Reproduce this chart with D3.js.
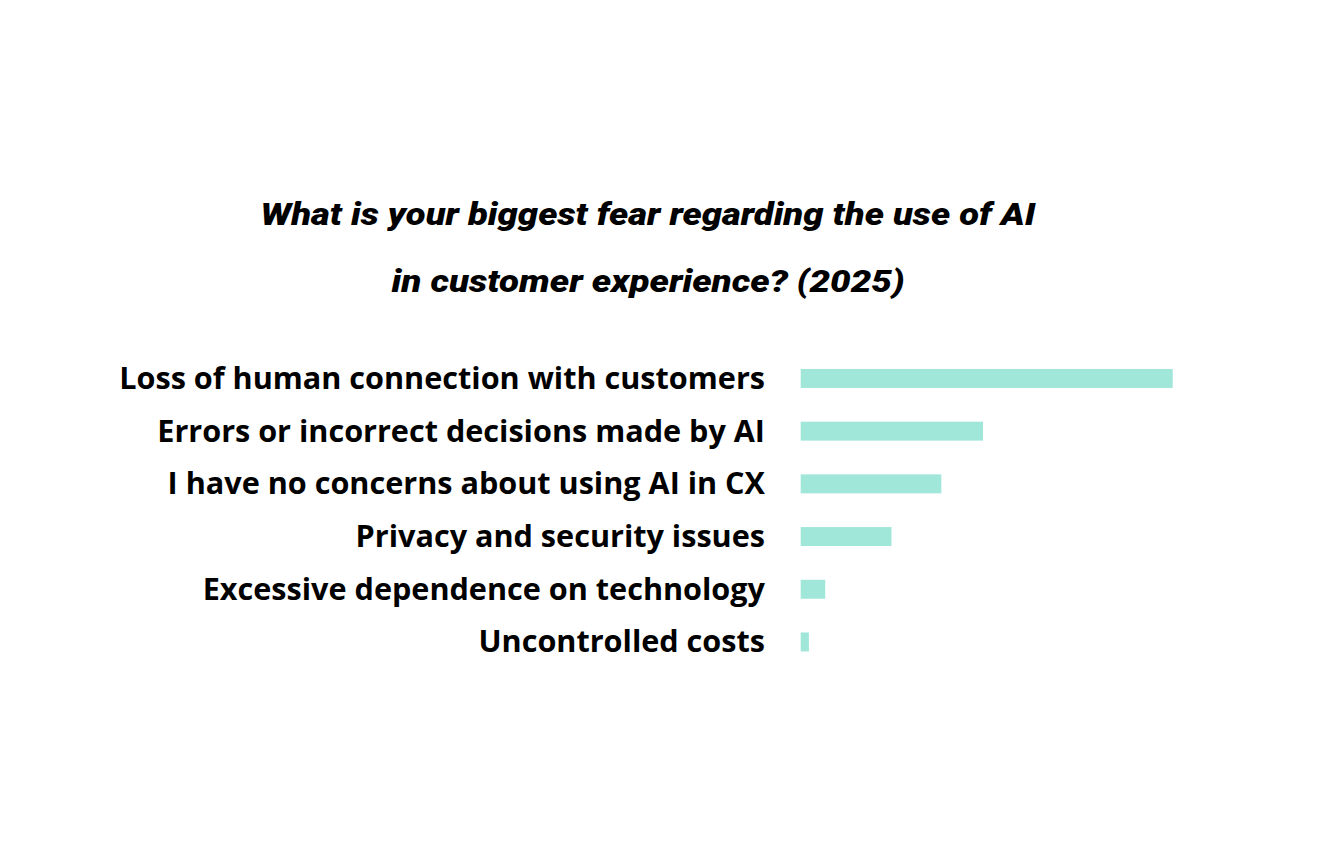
<!DOCTYPE html>
<html>
<head>
<meta charset="utf-8">
<script src="https://cdn.jsdelivr.net/npm/d3@7"></script>
<style>
  body { margin: 0; background: #ffffff; }
  svg { display: block; }
</style>
</head>
<body>
<div id="chart"></div>
<script>
const titleLines = ['What is your biggest fear regarding the use of AI', 'in customer experience? (2025)'];
const categories = [
    'Loss of human connection with customers',
    'Errors or incorrect decisions made by AI',
    'I have no concerns about using AI in CX',
    'Privacy and security issues',
    'Excessive dependence on technology',
    'Uncontrolled costs'
];
const values = [45.5, 22.3, 17.2, 11.1, 3.0, 1.0];

const width = 1335;
const height = 862;

const svg = d3.select('#chart')
    .append('svg')
    .attr('width', width)
    .attr('height', height);

// title, two centred lines
const titleWidths = [775, 513];
svg.selectAll('text.title')
    .data(titleLines)
    .enter()
    .append('text')
    .attr('class', 'title')
    .attr('x', 648)
    .attr('y', (d, i) => 225 + i * 67)
    .attr('text-anchor', 'middle')
    .attr('font-family', 'Roboto, sans-serif')
    .attr('font-style', 'italic')
    .attr('font-weight', 900)
    .attr('font-size', 31)
    .attr('fill', '#000')
    .attr('textLength', (d, i) => titleWidths[i])
    .attr('lengthAdjust', 'spacingAndGlyphs')
    .text(d => d);

const x = d3.scaleLinear()
    .domain([0, d3.max(values)])
    .range([800.7, 1172.7]);

const y = d3.scaleBand()
    .domain(categories)
    .range([352.1, 668.3])
    .paddingInner(0.64)
    .paddingOuter(0.32);

const rows = categories.map((c, i) => ({ label: c, value: values[i] }));

svg.selectAll('rect')
    .data(rows)
    .enter()
    .append('rect')
    .attr('x', x(0))
    .attr('y', d => y(d.label))
    .attr('width', d => x(d.value) - x(0))
    .attr('height', y.bandwidth())
    .attr('fill', '#a0e6d9');

const labels = svg.selectAll('text.label')
    .data(rows)
    .enter()
    .append('text')
    .attr('class', 'label')
    .attr('x', 765)
    .attr('y', d => y(d.label) + y.bandwidth() / 2)
    .attr('dy', '0.34em')
    .attr('text-anchor', 'end')
    .attr('font-family', '"Open Sans", sans-serif')
    .attr('font-weight', 700)
    .attr('font-size', 26)
    .attr('fill', '#000')
    .text(d => d.label);

// fit the longest label to its width in the picture
const w0 = labels.node().getComputedTextLength();
labels.attr('font-size', 26 * 646 / w0);
</script>
</body>
</html>
